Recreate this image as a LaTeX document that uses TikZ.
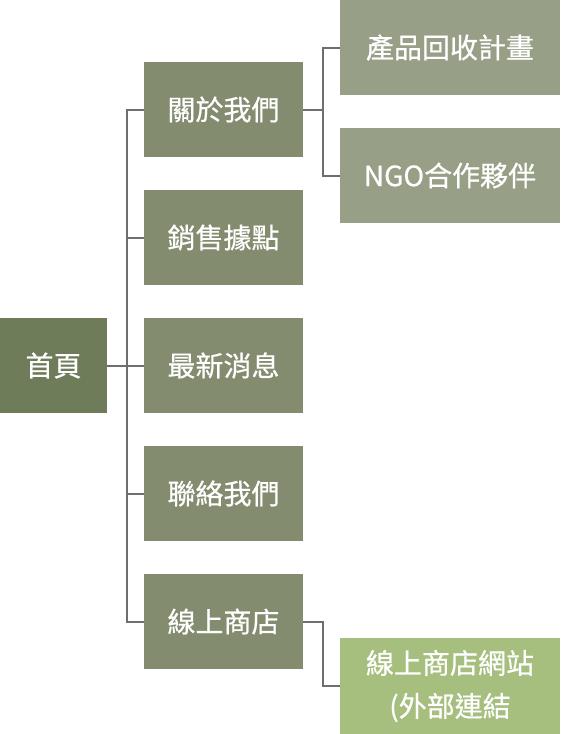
\documentclass[tikz,border=0pt]{standalone}
\usepackage{fontspec}
\setmainfont{Noto Sans CJK TC}[FakeBold=0.6]
\definecolor{homec}{HTML}{6F7C5A}
\definecolor{lvtwo}{HTML}{838C6F}
\definecolor{lvthree}{HTML}{989F87}
\definecolor{webc}{HTML}{A6BF7F}
\definecolor{linec}{HTML}{6E6E6E}
\tikzset{
  boxbase/.style={rectangle, inner sep=0pt, text=white, font=\fontsize{28}{43}\selectfont, align=center, minimum height=95pt},
  homebox/.style={boxbase, fill=homec, minimum width=107pt},
  secbox/.style={boxbase, fill=lvtwo, minimum width=159pt},
  subbox/.style={boxbase, fill=lvthree, minimum width=220pt},
  webbox/.style={boxbase, fill=webc, minimum width=220pt, minimum height=96pt},
  conn/.style={draw=linec, line width=2pt}
}
\begin{document}
\begin{tikzpicture}[x=1pt,y=-1pt]
\useasboundingbox (0,0) rectangle (560,734);
\node[homebox] (home) at (53.5,365.5) {首頁};
\node[secbox] (about) at (223.5,109.5) {關於我們};
\node[secbox] (sales) at (223.5,237.5) {銷售據點};
\node[secbox] (news) at (223.5,365.5) {最新消息};
\node[secbox] (contact) at (223.5,493.5) {聯絡我們};
\node[secbox] (store) at (223.5,621.5) {線上商店};
\node[subbox] (recycle) at (450,47.5) {產品回收計畫};
\node[subbox] (ngo) at (450,175.5) {NGO合作夥伴};
\node[webbox] (web) at (450,686) {線上商店網站\\(外部連結};
\coordinate (sp) at (127,0);
\coordinate (br) at (323,0);
\draw[conn] (home.east) -- (news.west);
\draw[conn] (about.west) -- (about.west -| sp) -- (store.west -| sp) -- (store.west);
\draw[conn] (sales.west) -- (sales.west -| sp);
\draw[conn] (contact.west) -- (contact.west -| sp);
\draw[conn] (about.east) -- (about.east -| br);
\draw[conn] (recycle.west) -- (recycle.west -| br) -- (ngo.west -| br) -- (ngo.west);
\draw[conn] (store.east) -- (store.east -| br) -- (web.west -| br) -- (web.west);
\end{tikzpicture}
\end{document}
